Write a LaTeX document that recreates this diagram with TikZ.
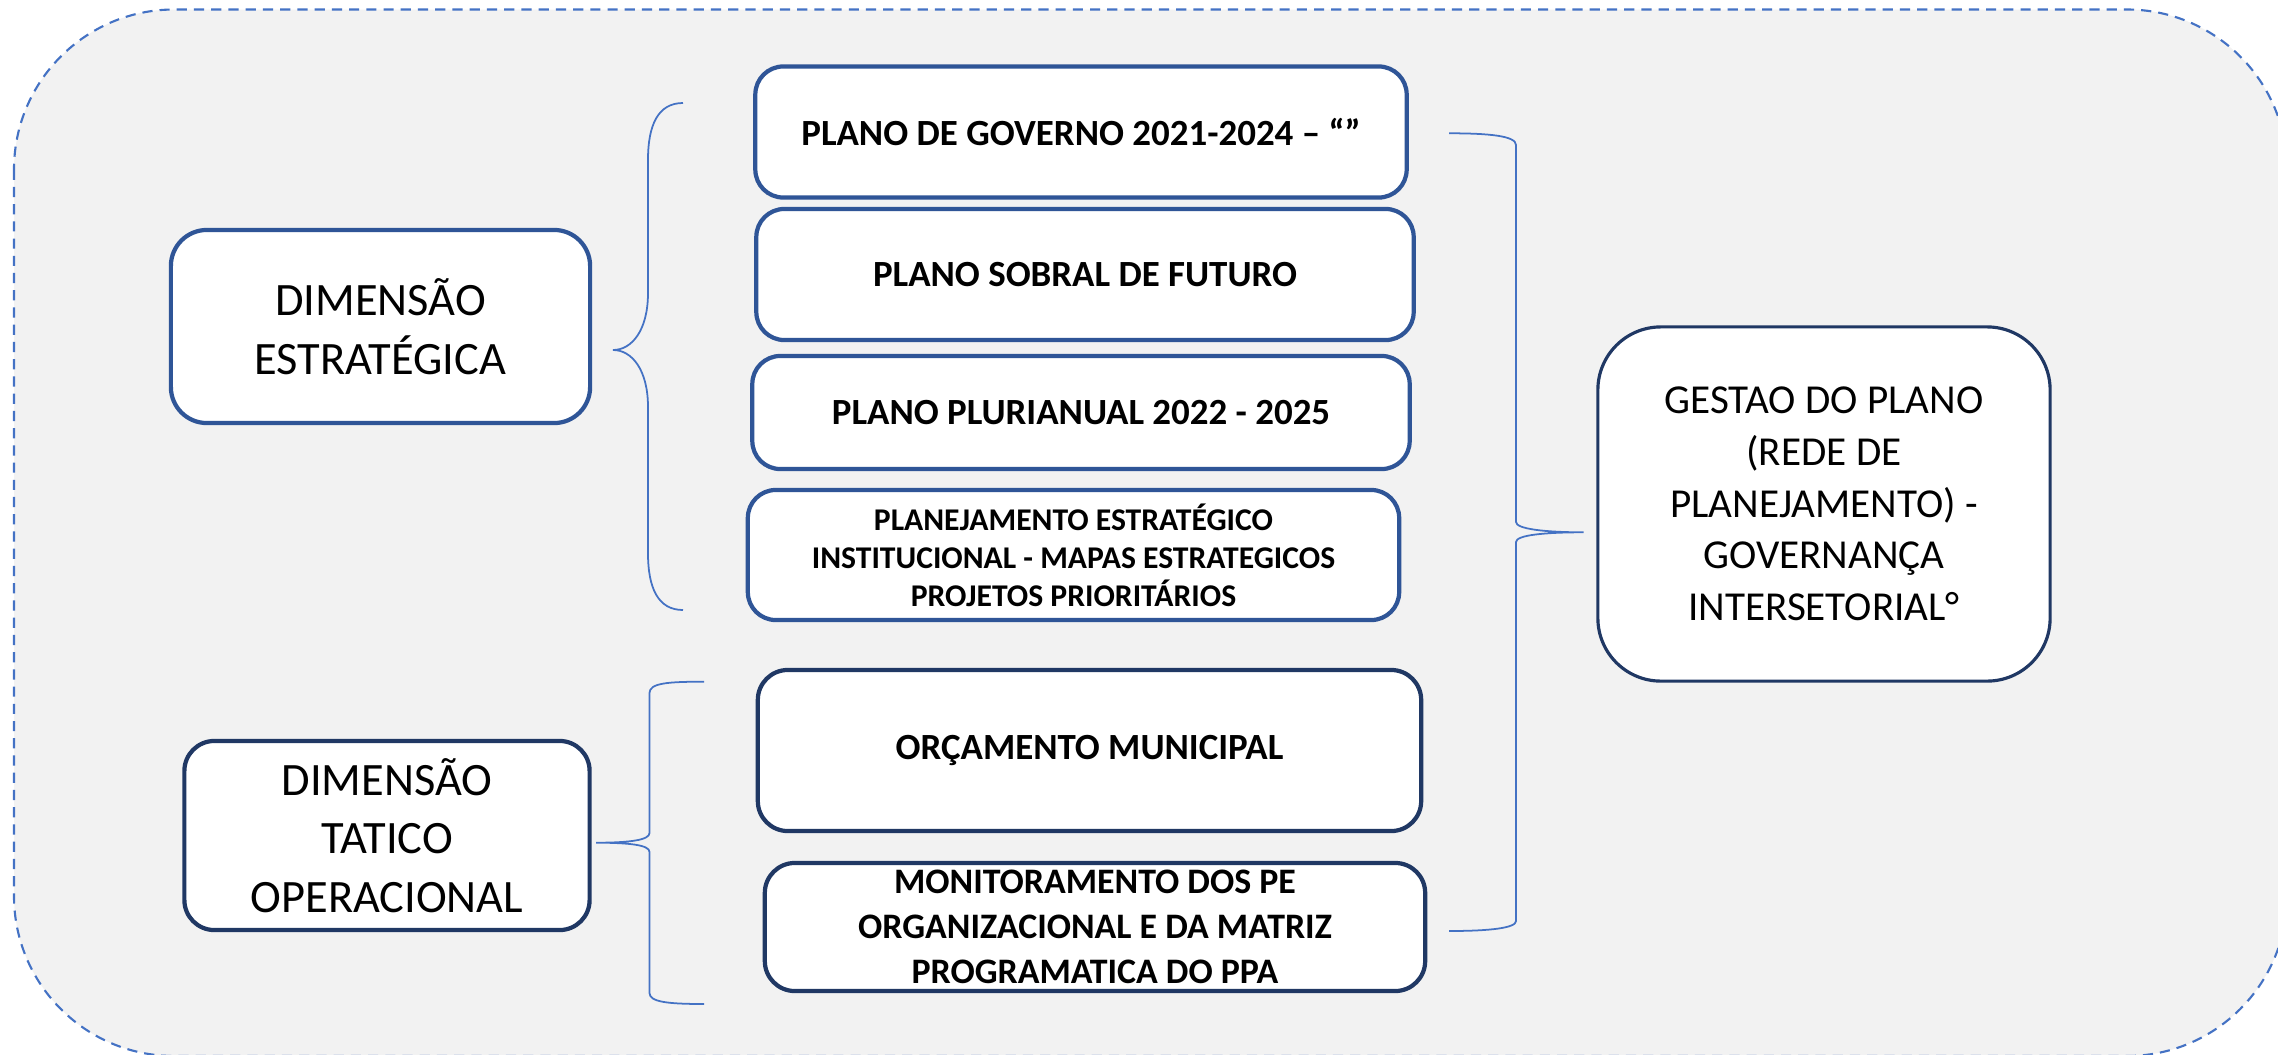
\documentclass[tikz,border=0pt]{standalone}
\usepackage{fontspec}
\setmainfont{Carlito}
\definecolor{dashblue}{HTML}{4472C4}
\definecolor{boxblue}{HTML}{2F5597}
\definecolor{navyblue}{HTML}{203864}
\definecolor{bggray}{HTML}{F2F2F2}
\begin{document}
\begin{tikzpicture}[x=0.01cm,y=-0.01cm,
  basebox/.style={fill=white, inner sep=0pt, align=center, text=black},
  bluebox/.style={basebox, draw=boxblue, line width=1.2pt, rounded corners=0.28cm},
  navybox/.style={basebox, draw=navyblue, line width=1.2pt, rounded corners=0.3cm},
  dimfont/.style={font=\fontsize{13.2}{16.6}\selectfont},
  boldfont/.style={font=\fontsize{10.5}{12.8}\selectfont\bfseries},
  bracestyle/.style={draw=dashblue, line width=0.5pt}]
\useasboundingbox (0,0) rectangle (2278,1054);
\begin{scope}
  \clip (0,0) rectangle (2278,1054);
  \draw[dashblue, fill=bggray, line width=0.6pt, dash pattern=on 2.9pt off 2pt, rounded corners=1.6cm]
    (14,9.5) rectangle (2287,1056);
\end{scope}

% left dimension boxes
\node[bluebox, dimfont, minimum width=4.19cm, minimum height=1.93cm, rounded corners=0.36cm] (de) at (380.5,326.5) {DIMENSÃO\\ESTRATÉGICA};
\node[navybox, dimfont, minimum width=4.05cm, minimum height=1.89cm] (dt) at (387,835.5) {DIMENSÃO\\TATICO\\OPERACIONAL};

% middle boxes
\node[bluebox, boldfont, minimum width=6.51cm, minimum height=1.31cm] (pg) at (1081,132) {PLANO DE GOVERNO 2021-2024 – “”};
\node[bluebox, boldfont, minimum width=6.57cm, minimum height=1.31cm] (ps) at (1085,274.5) {PLANO SOBRAL DE FUTURO};
\node[bluebox, boldfont, minimum width=6.57cm, minimum height=1.13cm] (pp) at (1081,412.5) {PLANO PLURIANUAL 2022 - 2025};
\node[bluebox, font=\fontsize{9}{10.8}\selectfont\bfseries, minimum width=6.51cm, minimum height=1.30cm] (pe) at (1073.5,555) {PLANEJAMENTO ESTRATÉGICO\\INSTITUCIONAL - MAPAS ESTRATEGICOS\\PROJETOS PRIORITÁRIOS};
\node[navybox, boldfont, minimum width=6.63cm, minimum height=1.61cm] (om) at (1089.5,750.5) {ORÇAMENTO MUNICIPAL};
\node[navybox, font=\fontsize{10.2}{12.8}\selectfont\bfseries, minimum width=6.60cm, minimum height=1.28cm] (mo) at (1095,927) {MONITORAMENTO DOS PE\\ORGANIZACIONAL E DA MATRIZ\\PROGRAMATICA DO PPA};

% right box
\node[basebox, draw=navyblue, line width=0.9pt, rounded corners=0.63cm, font=\fontsize{11.7}{14.7}\selectfont, minimum width=4.52cm, minimum height=3.54cm] (gp) at (1824,504) {GESTAO DO PLANO\\(REDE DE\\PLANEJAMENTO) -\\GOVERNANÇA\\INTERSETORIAL°};

% brace ends
\coordinate (sbt) at (683,103);
\coordinate (sbb) at (683,610);
\coordinate (sbtip) at (613,350);
\coordinate (tbt) at (704,681.7);
\coordinate (tbb) at (704,1004);
\coordinate (tbtip) at (596,842.7);
\coordinate (rbt) at (1449,133.3);
\coordinate (rbb) at (1449,931);
\coordinate (rbtip) at (1583.6,532.3);

% strategic brace
\draw[bracestyle] (sbt) .. controls (658,103) and (648,125) .. (648,160) -- (648,293)
  .. controls (648,330) and (632,350) .. (sbtip)
  .. controls (632,350) and (648,370) .. (648,407) -- (648,553)
  .. controls (648,588) and (658,610) .. (sbb);
% tactical brace
\draw[bracestyle] (tbt) .. controls (668,681.7) and (649.5,683) .. (649.5,693) -- (649.5,833)
  .. controls (649.5,840) and (630,842.7) .. (tbtip)
  .. controls (630,842.7) and (649.5,845) .. (649.5,852) -- (649.5,993)
  .. controls (649.5,1002) and (668,1004) .. (tbb);
% right brace
\draw[bracestyle] (rbt) .. controls (1490,133.3) and (1516,136) .. (1516,145) -- (1516,522)
  .. controls (1516,529) and (1545,532.3) .. (rbtip)
  .. controls (1545,532.3) and (1516,535) .. (1516,542) -- (1516,921)
  .. controls (1516,928) and (1490,931) .. (rbb);
\end{tikzpicture}
\end{document}
